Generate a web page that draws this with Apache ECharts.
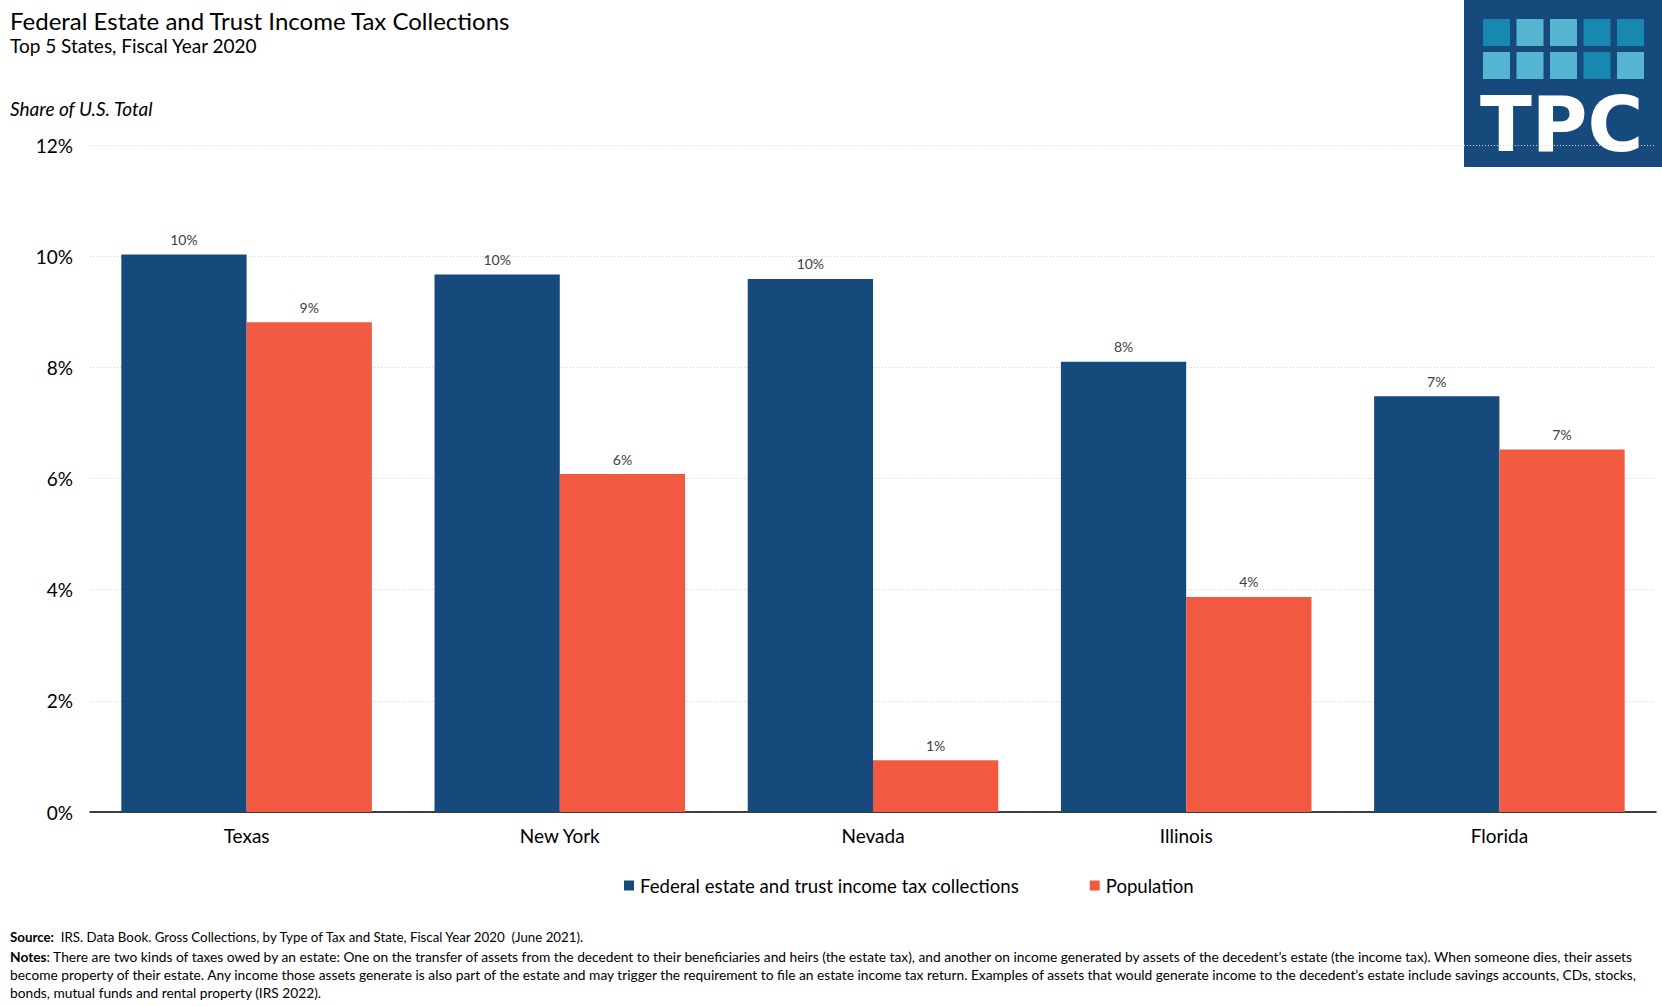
<!DOCTYPE html>
<html>
<head>
<meta charset="utf-8">
<script src="https://cdn.jsdelivr.net/npm/echarts@6/dist/echarts.min.js"></script>
<style>
html,body{margin:0;padding:0;background:#fff;}
#chart{width:1662px;height:1006px;}
</style>
</head>
<body>
<div id="chart"></div>
<script>
const categories = ['Texas', 'New York', 'Nevada', 'Illinois', 'Florida'];
const collections = [10.03, 9.67, 9.59, 8.10, 7.48];
const population = [8.81, 6.08, 0.93, 3.87, 6.52];
const seriesNames = ['Federal estate and trust income tax collections', 'Population'];
const yTicks = {min: 0, max: 12, interval: 2};

const titleText = 'Federal Estate and Trust Income Tax Collections';
const subtitleText = 'Top 5 States, Fiscal Year 2020';
const axisTitle = 'Share of U.S. Total';
const sourceText = 'IRS. Data Book. Gross Collections, by Type of Tax and State, Fiscal Year 2020  (June 2021).';
const notesLines = [
  'There are two kinds of taxes owed by an estate: One on the transfer of assets from the decedent to their beneficiaries and heirs (the estate tax), and another on income generated by assets of the decedent\u2019s estate (the income tax). When someone dies, their assets',
  'become property of their estate. Any income those assets generate is also part of the estate and may trigger the requirement to file an estate income tax return. Examples of assets that would generate income to the decedent\u2019s estate include savings accounts, CDs, stocks,',
  'bonds, mutual funds and rental property (IRS 2022).'
];

const BLUE = '#174a7c';
const ORANGE = '#f15a40';
const FONT = 'Lato';
const NOTE_FONT = 'Lato';
const NOTE_SIZE = 13.76;
const SOURCE_SIZE = 13.3;

const chart = echarts.init(document.getElementById('chart'), null, {renderer: 'svg'});

// logo squares pattern
const logoDark = '#1789b0', logoLight = '#56b6d2';
const logoPattern = [
  [logoDark, logoLight, logoLight, logoDark, logoDark],
  [logoLight, logoLight, logoLight, logoDark, logoLight]
];
const logoEls = [{
  type: 'rect', shape: {x: 1464, y: 0, width: 198, height: 167}, style: {fill: '#174a7c'}
}];
logoPattern.forEach((row, r) => row.forEach((c, i) => {
  logoEls.push({type: 'rect', shape: {x: 1483 + i * 33.5, y: 19 + r * 33, width: 27, height: 27}, style: {fill: c}});
}));
logoEls.push({
  type: 'text', left: 1480, top: 86,
  style: {text: 'TPC', fill: '#fff', font: 'bold 76px "DejaVu Sans", sans-serif'}
});

const noteTextLines = ['{b|Notes}: ' + notesLines[0], notesLines[1], notesLines[2]];

chart.setOption({
  animation: false,
  backgroundColor: '#fff',
  textStyle: {fontFamily: FONT},
  grid: {left: 90, right: 6, top: 145, bottom: 194, containLabel: false},
  legend: {
    data: seriesNames,
    left: 624, top: 876, padding: 0,
    itemGap: 71, itemWidth: 10, itemHeight: 10, icon: 'rect',
    textStyle: {fontSize: 18.6, color: '#000', fontFamily: FONT, padding: [0, 0, 0, 1]}
  },
  xAxis: {
    type: 'category', data: categories,
    axisLine: {lineStyle: {color: '#000', width: 1.5}},
    axisTick: {show: false},
    axisLabel: {fontSize: 19, color: '#000', margin: 14, fontFamily: FONT}
  },
  yAxis: {
    type: 'value', min: yTicks.min, max: yTicks.max, interval: yTicks.interval,
    axisLine: {show: false}, axisTick: {show: false},
    axisLabel: {formatter: '{value}%', fontSize: 19, color: '#000', margin: 17, fontFamily: FONT},
    splitLine: {lineStyle: {color: '#d4d4d4', type: [1, 2], width: 1}}
  },
  series: [
    {
      name: seriesNames[0], type: 'bar', data: collections,
      barGap: '0%', barCategoryGap: '20%',
      itemStyle: {color: BLUE},
      label: {show: true, position: 'top', distance: 8, fontSize: 14, color: '#404040',
        formatter: p => Math.round(p.value) + '%'}
    },
    {
      name: seriesNames[1], type: 'bar', data: population,
      barGap: '0%', barCategoryGap: '20%',
      itemStyle: {color: ORANGE},
      label: {show: true, position: 'top', distance: 8, fontSize: 14, color: '#404040',
        formatter: p => Math.round(p.value) + '%'}
    }
  ],
  graphic: [
    {type: 'text', left: 10, top: 8, style: {text: titleText, font: '24px Lato', fill: '#000'}},
    {type: 'text', left: 10, top: 36, style: {text: subtitleText, font: '19px Lato', fill: '#000'}},
    {type: 'text', left: 10, top: 99, style: {text: axisTitle, font: 'italic 19px Lato', fill: '#000'}},
    {type: 'text', left: 10, top: 930, style: {
      text: '{b|Source:}  ' + sourceText,
      font: SOURCE_SIZE + 'px ' + NOTE_FONT, fill: '#000',
      rich: {b: {fontWeight: 'bold', fontSize: SOURCE_SIZE, fontFamily: NOTE_FONT}}
    }},
    {type: 'text', left: 10, top: 947, style: {
      text: noteTextLines.join('\n'),
      font: NOTE_SIZE + 'px ' + NOTE_FONT, fill: '#000', lineHeight: 18,
      rich: {b: {fontWeight: 'bold', fontSize: NOTE_SIZE, fontFamily: NOTE_FONT, lineHeight: 18}}
    }},
    ...logoEls
  ]
});
</script>
</body>
</html>
